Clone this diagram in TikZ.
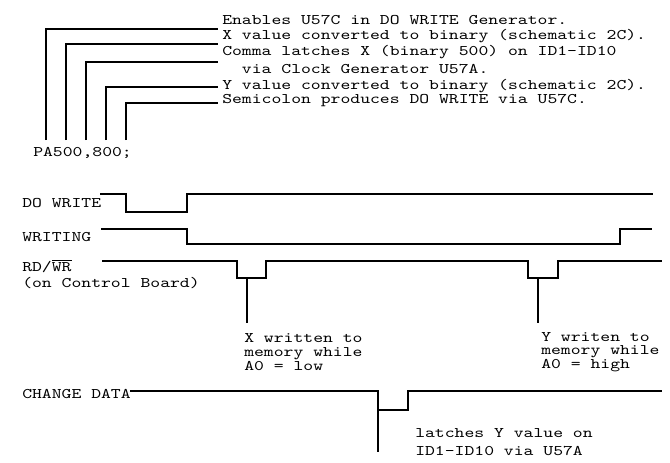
\documentclass[tikz,border=0pt]{standalone}
\usepackage{fontspec}
\setmonofont[FakeStretch=1.28]{lmmono10-regular.otf}
\tikzset{
	sig/.style={line width=0.9pt},
	lbl/.style={anchor=west, inner sep=0pt, align=left, font=\ttfamily\fontsize{11}{10.3}\selectfont},
}
\begin{document}
\begin{tikzpicture}[x=0.75pt, y=-0.75pt]
	\useasboundingbox (0,0) rectangle (670,462);
	% COMMAND AND ITS NOTES
	\node[lbl] (en) at (222,20) {Enables U57C in DO WRITE Generator.};
	\node[lbl] (xv) at (222,36) {X value converted to binary (schematic 2C).};
	\node[lbl] (cm) at (222,52) {Comma latches X (binary 500) on ID1-ID10};
	\node[lbl] (ck) at (222,69) {\phantom{Co}via Clock Generator U57A.};
	\node[lbl] (yv) at (222,86) {Y value converted to binary (schematic 2C).};
	\node[lbl] (sc) at (222,101) {Semicolon produces DO WRITE via U57C.};
	\node[lbl] (pa) at (33,153) {PA500,800;};
	\foreach \x/\y in {46/29, 66/44, 86/62, 106/87, 126/103} {
		\draw[sig] (\x,140) |- (218,\y);
	}
	
	% DO WRITE
	\node[lbl] (dw) at (22,203) {DO WRITE};
	\draw[sig] (100,194) -- (126,194) -- (126,212) -- (187,212) -- (187,194) -- (653,194);
	
	% WRITING
	\node[lbl] (wr) at (22,237) {WRITING};
	\draw[sig] (101,229) -- (187,229) -- (187,244) -- (620,244) -- (620,229) -- (652,229);
	
	% RD/WR
	\node[lbl] (rw) at (22,274) {RD/$\overline{\mbox{WR}}$\\[2pt](on Control Board)};
	\draw[sig] (102,261) -- (237,261) -- (237,278) -- (266,278) -- (266,261)
		-- (528,261) -- (528,278) -- (558,278) -- (558,261) -- (662,261);
	\coordinate (p1) at (247,278);
	\coordinate (p2) at (538,278);
	\node[lbl] (xw) at (244,352) {X written to\\memory while\\A0 = low};
	\node[lbl] (yw) at (541,352) {Y writen to\\memory while\\A0 = high};
	\draw[sig] (p1) -- (p1 |- 0,323);
	\draw[sig] (p2) -- (p2 |- 0,323);
	
	% CHANGE DATA
	\node[lbl] (cd) at (22,394) {CHANGE DATA};
	\draw[sig] (130,391) -- (378,391) -- (378,410) -- (408,410) -- (408,391) -- (662,391);
	\coordinate (p3) at (378,410);
	\draw[sig] (p3) -- (p3 |- 0,452);
	\node[lbl] (lt) at (415,442) {latches Y value on\\[3.5pt]ID1-ID10 via U57A};
\end{tikzpicture}
\end{document}
